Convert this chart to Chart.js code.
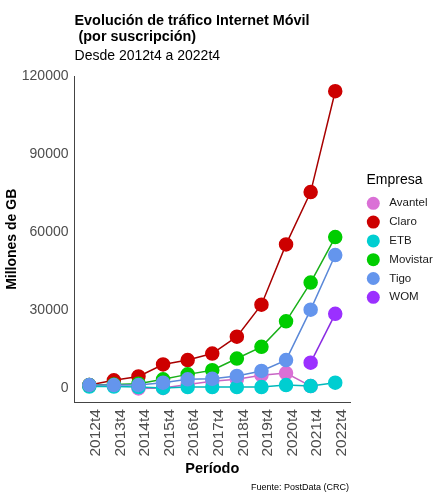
<!DOCTYPE html>
<html>
<head>
<meta charset="utf-8">
<script src="https://cdn.jsdelivr.net/npm/chart.js@4.4.0/dist/chart.umd.min.js"></script>
<style>
  html, body { margin: 0; padding: 0; background: #ffffff; }
  #wrap { width: 434px; height: 492px; position: relative; }
</style>
</head>
<body>
<div id="wrap"><canvas id="trafico"></canvas></div>
<script>
// periods on the x axis
const periodos = ['2012t4', '2013t4', '2014t4', '2015t4', '2016t4', '2017t4', '2018t4', '2019t4', '2020t4', '2021t4', '2022t4'];
const yTicks = [0, 30000, 60000, 90000, 120000];

// millones de GB per operator (null = no data)
const avantel  = [null, null, 0, 200, 1500, 2800, 3500, 5100, 5900, 900, null];
const claro    = [1300, 3100, 4600, 9200, 10900, 13400, 19900, 32200, 55400, 75500, 114300];
const etb      = [700, 700, 500, 200, 500, 500, 500, 500, 1300, 900, 2200];
const movistar = [1300, 1500, 1800, 3500, 5400, 7000, 11500, 16000, 25800, 40700, 58200];
const tigo     = [1300, 1300, 1300, 2200, 3500, 3700, 4800, 6700, 10900, 30300, 51300];
const wom      = [null, null, null, null, null, null, null, null, null, 9900, 28700];

const empresas = ['Avantel', 'Claro', 'ETB', 'Movistar', 'Tigo', 'WOM'];
const series = [avantel, claro, etb, movistar, tigo, wom];
const colores = ['#DA70D6', '#CD0000', '#00CED1', '#00CD00', '#6495ED', '#9B30FF'];
const lineas = ['#C864C4', '#A80000', '#00B8BB', '#19B019', '#5A88D8', '#8A2BE2'];

const FONT = "'Liberation Sans', Arial, sans-serif";

const datasets = empresas.map((nombre, k) => ({
    label: nombre,
    data: series[k].map((v, i) => v === null ? null : { x: i, y: v }).filter(p => p !== null),
    borderColor: lineas[k],
    backgroundColor: colores[k],
    pointBackgroundColor: colores[k],
    pointBorderColor: colores[k],
    pointRadius: 6.5,
    pointHoverRadius: 6.5,
    borderWidth: 1.5,
    order: empresas.length - k
}));

// legend on the right (ggplot style) + caption
const leyenda = {
    id: 'leyenda',
    afterDraw(chart) {
        const ctx = chart.ctx;
        ctx.save();
        ctx.textBaseline = 'middle';
        ctx.textAlign = 'left';
        ctx.fillStyle = '#000000';
        ctx.font = '14px ' + FONT;
        ctx.fillText('Empresa', 366.5, 180);
        ctx.font = '11.5px ' + FONT;
        chart.data.datasets.forEach((ds, i) => {
            const y = 203.3 + i * 18.8;
            ctx.beginPath();
            ctx.arc(373.3, y, 6.5, 0, Math.PI * 2);
            ctx.fillStyle = ds.backgroundColor;
            ctx.fill();
            ctx.fillStyle = '#1a1a1a';
            ctx.fillText(ds.label, 389.3, y);
        });
        ctx.font = '9px ' + FONT;
        ctx.fillStyle = '#000000';
        ctx.textAlign = 'right';
        ctx.fillText('Fuente: PostData (CRC)', chart.chartArea.right - 1, 487.7);
        ctx.restore();
    }
};

new Chart(document.getElementById('trafico').getContext('2d'), {
    type: 'line',
    data: { datasets: datasets },
    plugins: [leyenda],
    options: {
        responsive: true,
        maintainAspectRatio: false,
        animation: false,
        spanGaps: false,
        layout: { padding: { left: 2, right: 84, top: 0, bottom: 14 } },
        plugins: {
            title: {
                display: true,
                text: ['Evolución de tráfico Internet Móvil', ' (por suscripción)'],
                align: 'start',
                fullSize: false,
                color: '#000000',
                font: { family: FONT, size: 14.4, weight: 'bold', lineHeight: 1.15 },
                padding: { top: 12.5, bottom: 2.5 }
            },
            subtitle: {
                display: true,
                text: 'Desde 2012t4 a 2022t4',
                align: 'start',
                fullSize: false,
                color: '#000000',
                font: { family: FONT, size: 14 },
                padding: { top: 0, bottom: 11.5 }
            },
            legend: { display: false },
            tooltip: { enabled: false }
        },
        scales: {
            x: {
                type: 'linear',
                min: -0.6,
                max: periodos.length - 1 + 0.6,
                afterBuildTicks: (scale) => { scale.ticks = periodos.map((p, i) => ({ value: i })); },
                grid: { display: false, drawTicks: true, tickLength: 5, tickColor: '#444444', tickWidth: 1 },
                border: { display: true, color: '#444444', width: 1 },
                ticks: {
                    autoSkip: false,
                    maxRotation: 90,
                    minRotation: 90,
                    padding: 2,
                    labelOffset: 6.5,
                    color: '#4D4D4D',
                    font: { family: FONT, size: 15.5 },
                    callback: (v) => periodos[v]
                },
                title: {
                    display: true,
                    text: 'Período',
                    color: '#000000',
                    font: { family: FONT, size: 14.5, weight: 'bold' },
                    padding: { top: 2, bottom: 0 }
                }
            },
            y: {
                min: -5300,
                max: 120000,
                afterBuildTicks: (scale) => { scale.ticks = yTicks.map(v => ({ value: v })); },
                grid: { display: false, drawTicks: true, tickLength: 5, tickColor: '#444444', tickWidth: 1 },
                border: { display: true, color: '#444444', width: 1 },
                ticks: {
                    padding: 1,
                    color: '#4D4D4D',
                    font: { family: FONT, size: 14 },
                    callback: (v) => String(v)
                },
                title: {
                    display: true,
                    text: 'Millones de GB',
                    color: '#000000',
                    font: { family: FONT, size: 14, weight: 'bold' },
                    padding: { top: 2, bottom: 0 }
                }
            }
        }
    }
});
</script>
</body>
</html>
